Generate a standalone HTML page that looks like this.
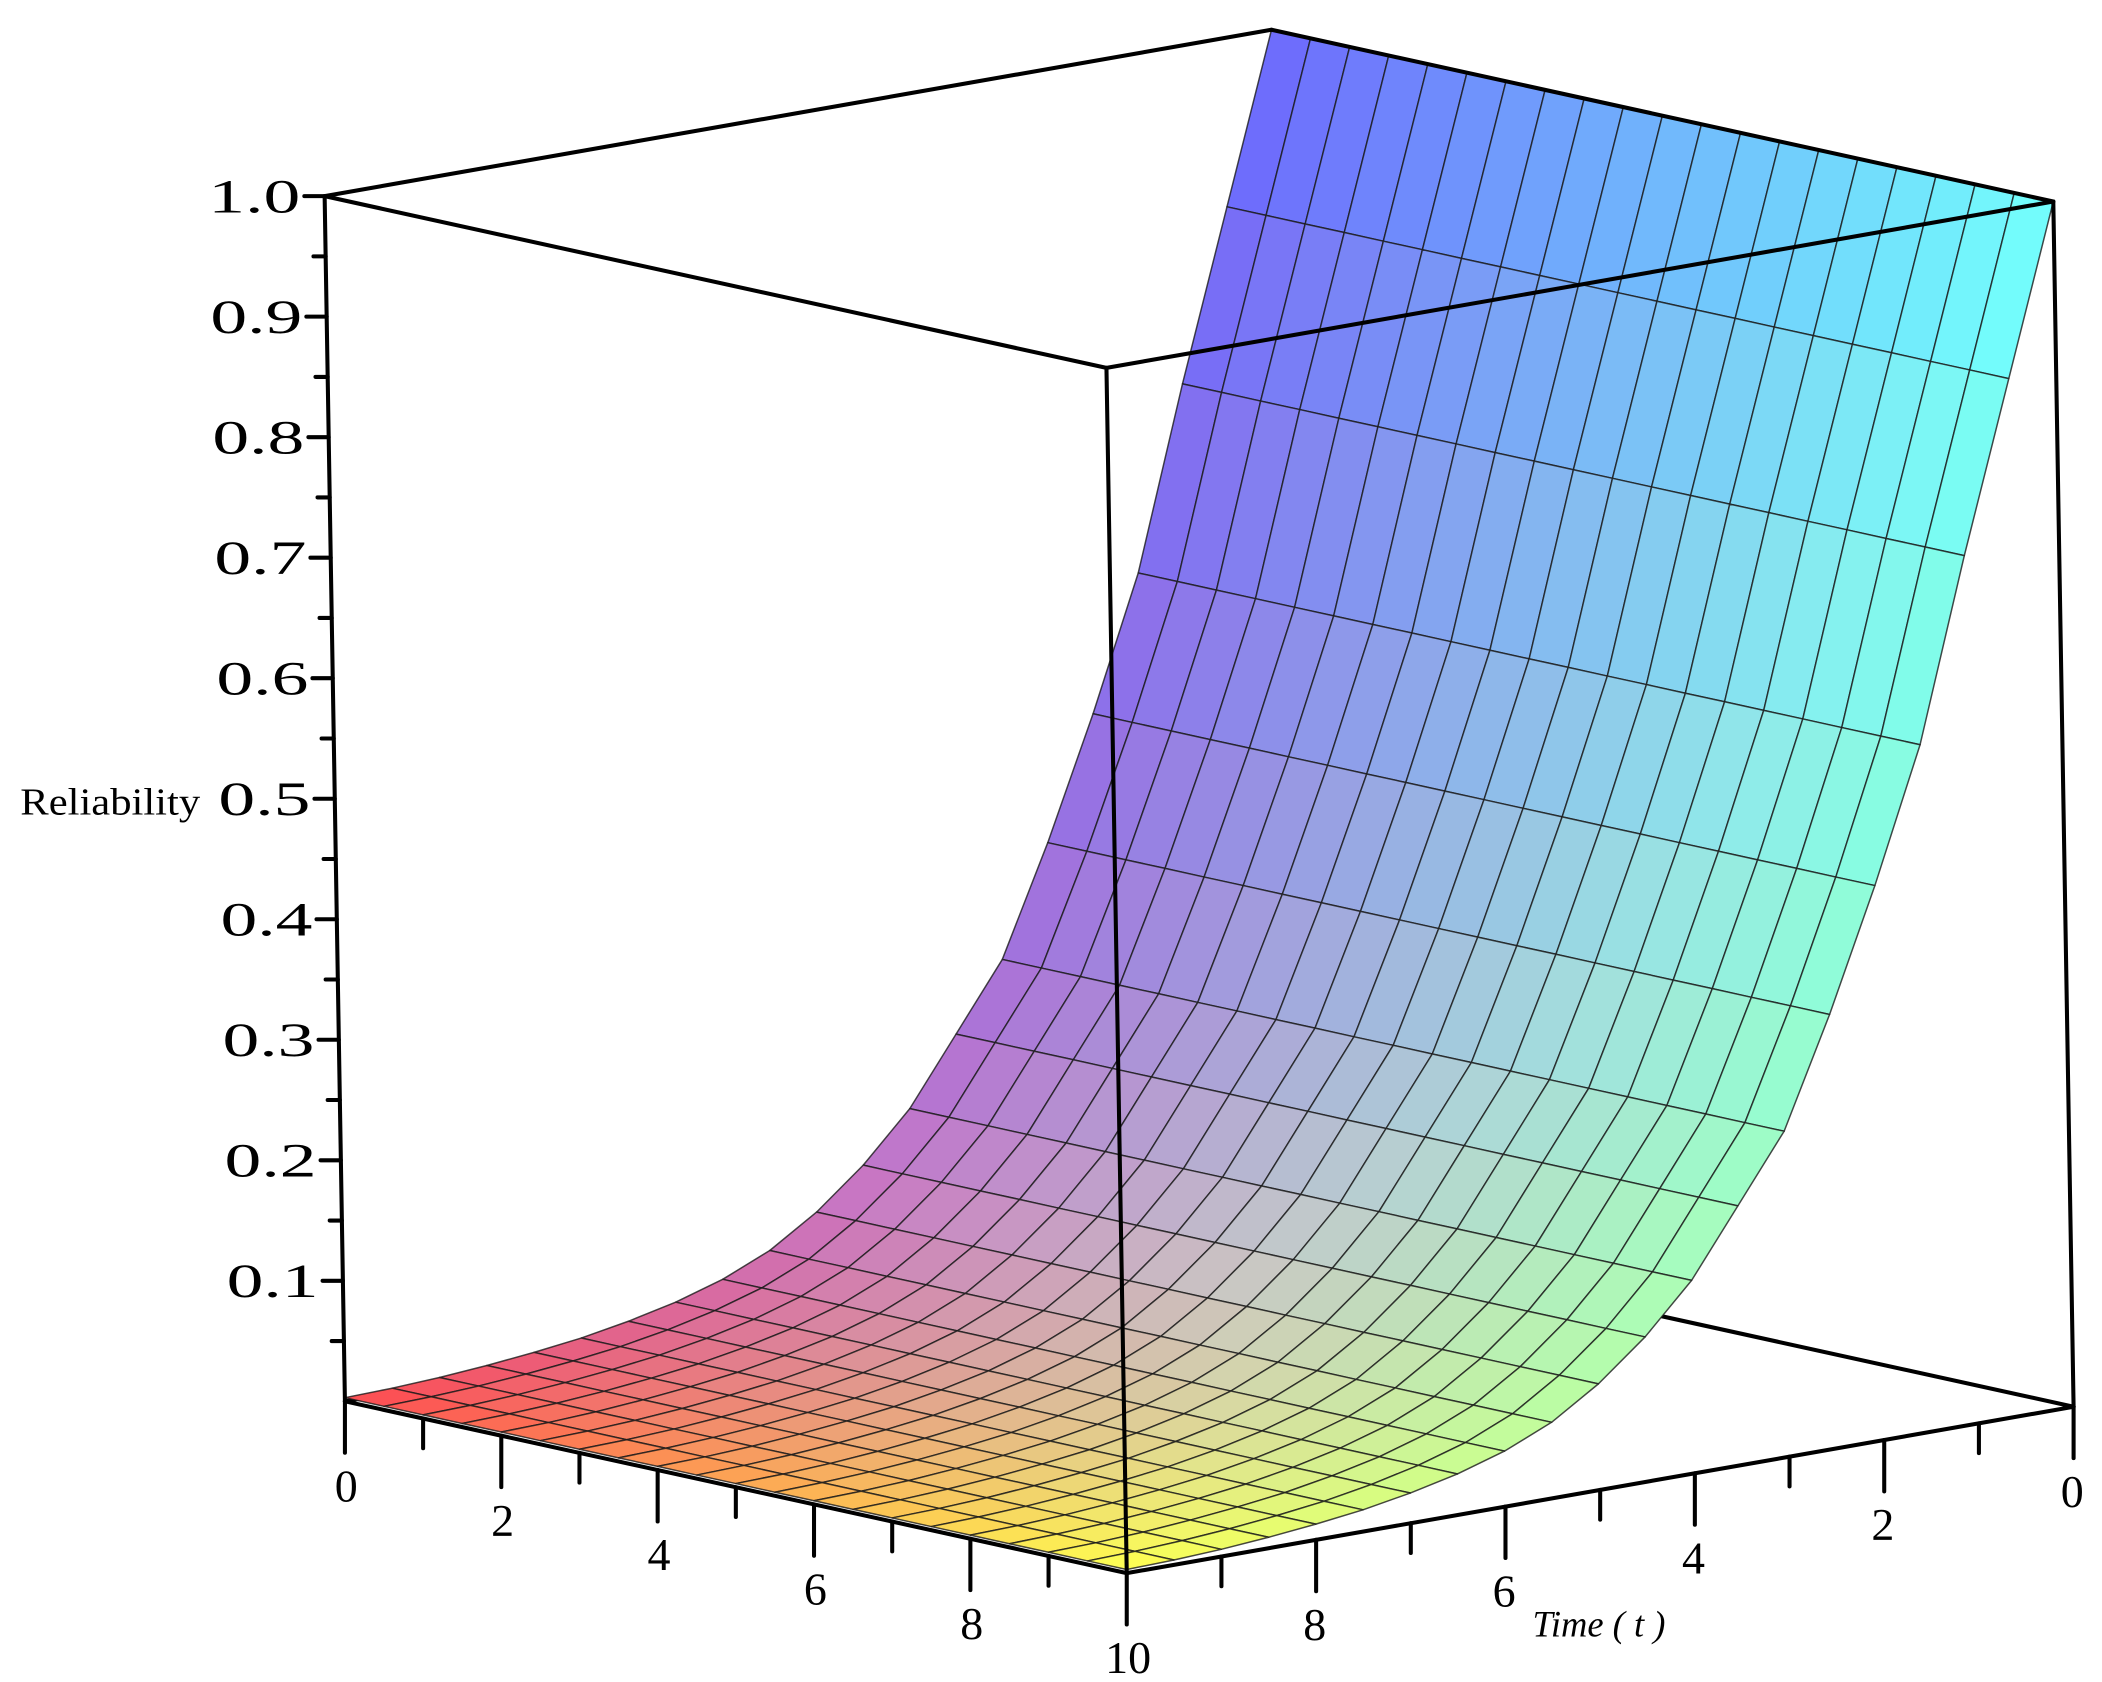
<!DOCTYPE html>
<html><head><meta charset="utf-8"><style>
html,body{margin:0;padding:0;background:#fff}
svg{display:block}
text{font-family:"Liberation Serif",serif;fill:#000}
</style></head><body>
<svg id="chart" width="2102" height="1682" viewBox="0 0 1554 1243.5" xmlns="http://www.w3.org/2000/svg">
<g id="back"></g>
<g id="surf"></g>
<g id="box"></g>
<g id="axes"></g>
</svg>
<script>
// Data
const tGrid = [0,0.5,1,1.5,2,2.5,3,3.5,4,4.5,5,5.5,6,6.5,7,7.5,8,8.5,9,9.5,10];
const uGrid = [0,0.5,1,1.5,2,2.5,3,3.5,4,4.5,5,5.5,6,6.5,7,7.5,8,8.5,9,9.5,10];
const rel = [1.00,0.86,0.72,0.57,0.46,0.36,0.27,0.215,0.16,0.12,0.088,0.063,0.046,0.034,0.025,0.018,0.013,0.009,0.006,0.004,0.003];
const zTicks = [0.1,0.2,0.3,0.4,0.5,0.6,0.7,0.8,0.9,1.0];
const zTickLabels = ["0.1","0.2","0.3","0.4","0.5","0.6","0.7","0.8","0.9","1.0"];
const uTicks = [0,2,4,6,8,10];
const tTicks = [0,2,4,6,8];

const NS = "http://www.w3.org/2000/svg";
function P(u,t,z){ // projection
  const s = 10 - t;
  return [255 + 57.8*u + 70*s - 15*z, 1036 + 12.7*u - 12.3*s - 891*z];
}
function mk(tag, attrs, parent){
  const e = document.createElementNS(NS, tag);
  for (const k in attrs) e.setAttribute(k, attrs[k]);
  parent.appendChild(e); return e;
}
function line(a,b,parent,w){ return mk('line',{x1:a[0],y1:a[1],x2:b[0],y2:b[1],stroke:'#000','stroke-width':w||3,'stroke-linecap':'round'},parent); }
const back=document.getElementById('back'), surf=document.getElementById('surf'), box=document.getElementById('box'), axes=document.getElementById('axes');

let e;
e=line(P(0,10,0),P(0,0,0),back);  
e=line(P(10,0,0),P(0,0,0),back);  

function col(u,t){
  const a=u/10, b=t/10;
  const c00=[105,105,255], c10=[110,255,255], c01=[255,75,80], c11=[255,255,80];
  let r=[0,1,2].map(i=> (1-a)*(1-b)*c00[i] + a*(1-b)*c10[i] + (1-a)*b*c01[i] + a*b*c11[i]);
  const m=Math.max(...r), boost=(255-m)*0.3;
  r=r.map(v=>Math.min(255,v+boost));
  return 'rgb('+r.map(v=>Math.round(v)).join(',')+')';
}
const cells=[];
for(let i=0;i<uGrid.length-1;i++) for(let j=0;j<tGrid.length-1;j++) cells.push([i,j]);
cells.sort((A,B)=>(A[0]+A[1])-(B[0]+B[1]));
for(const [i,j] of cells){
  const u0=uGrid[i],u1=uGrid[i+1],t0=tGrid[j],t1=tGrid[j+1];
  const pts=[P(u0,t0,rel[j]),P(u1,t0,rel[j]),P(u1,t1,rel[j+1]),P(u0,t1,rel[j+1])];
  const q=mk('polygon',{points:pts.map(p=>p[0].toFixed(1)+','+p[1].toFixed(1)).join(' '),fill:col((u0+u1)/2,(t0+t1)/2),stroke:'#1a1a1a','stroke-width':1.1,'stroke-opacity':0.8,'stroke-linejoin':'round'},surf);
  
  
}

const edges=[
 ['top-left-back-edge',P(0,10,1),P(0,0,1)],['top-right-back-edge',P(0,0,1),P(10,0,1)],
 ['top-left-front-edge',P(0,10,1),P(10,10,1)],['top-right-front-edge',P(10,10,1),P(10,0,1)],
 ['left-vertical-edge',P(0,10,0),P(0,10,1)],['front-vertical-edge',P(10,10,0),P(10,10,1)],
 ['right-vertical-edge',P(10,0,0),P(10,0,1)],
 ['u-axis-line',P(0,10,0),P(10,10,0)],['time-axis-line',P(10,10,0),P(10,0,0)]];
for(const [n,a,b] of edges){ e=line(a,b,box,3);   }

for(let k=1;k<=20;k++){
  const z=k*0.05, p=P(0,10,z), major=(k%2===0);
  e=line([p[0]-(major?15:9),p[1]],p,axes,3);
  
  
}
zTicks.forEach((z,i)=>{
  const p=P(0,10,z);
  const tx=mk('text',{x:p[0]-18,y:p[1]+12,'font-size':35,'text-anchor':'end',textLength:68,lengthAdjust:'spacingAndGlyphs'},axes);
  tx.textContent=zTickLabels[i];
  
  
});
e=mk('text',{x:15,y:602,'font-size':28,textLength:133,lengthAdjust:'spacingAndGlyphs'},axes); e.textContent='Reliability';
 

for(let k=0;k<=10;k++){
  const p=P(k,10,0), major=(k%2===0);
  e=line(p,[p[0],p[1]+(major?38:22)],axes,3);
  
  
}
uTicks.forEach(v=>{
  const p=P(v,10,0);
  const tx=mk('text',{x:p[0]+1,y:p[1]+74,'font-size':34,'text-anchor':'middle'},axes);
  tx.textContent=String(v);
  
  
});
for(let k=0;k<=9;k++){
  const p=P(10,k,0), major=(k%2===0);
  e=line(p,[p[0],p[1]+(major?38:22)],axes,3);
  
  
}
tTicks.forEach(v=>{
  const p=P(10,v,0);
  const tx=mk('text',{x:p[0]-1,y:p[1]+74,'font-size':34,'text-anchor':'middle'},axes);
  tx.textContent=String(v);
  
  
});
e=mk('text',{x:1133,y:1210,'font-size':27,'font-style':'italic'},axes); e.textContent='Time ( t )';
 
</script>
</body></html>
